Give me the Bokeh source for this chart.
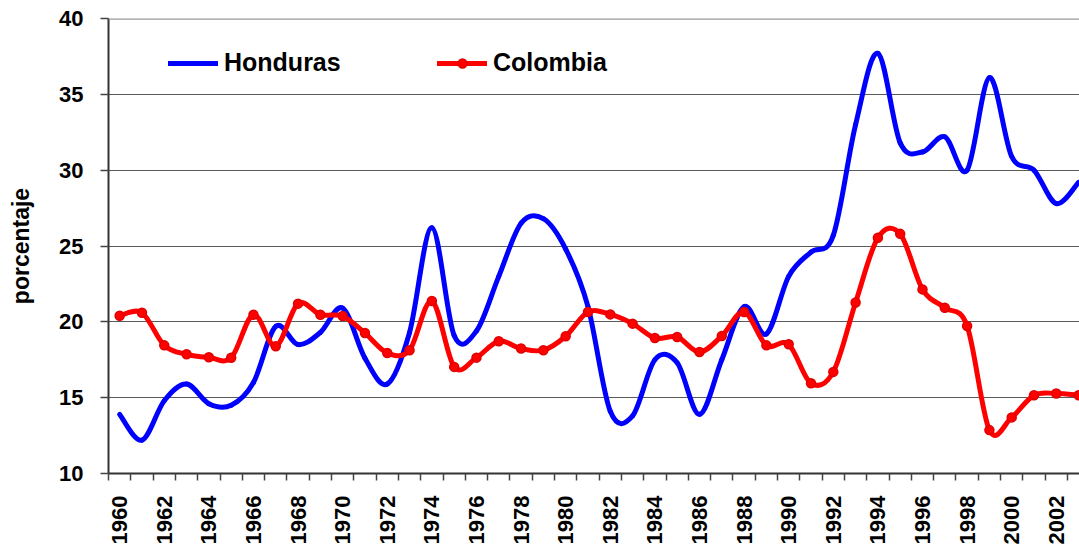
import math
from bokeh.plotting import figure
from bokeh.models import Range1d, FixedTicker, Legend, LegendItem, Span, ColumnDataSource
from bokeh.embed import file_html
from bokeh.resources import INLINE

years = list(range(1960, 2004))
honduras = [13.9, 12.2, 14.8, 15.9, 14.6, 14.5, 16.0, 19.7, 18.5, 19.3,
            20.9, 17.6, 15.9, 19.3, 26.2, 19.1, 19.4, 23.0, 26.5, 26.8,
            24.8, 21.0, 14.1, 13.8, 17.5, 17.3, 13.9, 17.5, 21.0, 19.2,
            23.0, 24.6, 25.7, 33.0, 37.7, 31.8, 31.2, 32.2, 30.0, 36.1,
            30.9, 30.0, 27.8, 29.2]
colombia = [20.4, 20.6, 18.45, 17.86, 17.66, 17.63, 20.47, 18.39, 21.2, 20.47,
            20.38, 19.26, 17.95, 18.13, 21.37, 17.03, 17.64, 18.72, 18.24, 18.13,
            19.05, 20.65, 20.49, 19.88, 18.93, 19.0, 18.01, 19.07, 20.65, 18.45,
            18.52, 15.95, 16.7, 21.28, 25.54, 25.8, 22.14, 20.93, 19.73, 12.86,
            13.7, 15.16, 15.28, 15.16]
y_ticks = [10, 15, 20, 25, 30, 35, 40]
x_label_ticks = list(range(1960, 2003, 2))

FONT = "Liberation Sans"


def smooth_segments(xs, ys):
    n = len(xs)
    d = dict(x0=[], y0=[], x1=[], y1=[], cx0=[], cy0=[], cx1=[], cy1=[])
    for i in range(n - 1):
        im1 = max(i - 1, 0)
        ip2 = min(i + 2, n - 1)
        d["x0"].append(xs[i]); d["y0"].append(ys[i])
        d["x1"].append(xs[i + 1]); d["y1"].append(ys[i + 1])
        d["cx0"].append(xs[i] + (xs[i + 1] - xs[im1]) / 6.0)
        d["cy0"].append(ys[i] + (ys[i + 1] - ys[im1]) / 6.0)
        d["cx1"].append(xs[i + 1] - (xs[ip2] - xs[i]) / 6.0)
        d["cy1"].append(ys[i + 1] - (ys[ip2] - ys[i]) / 6.0)
    return ColumnDataSource(d)


p = figure(width=1079, height=547,
           x_range=Range1d(1959.5, 2003.04), y_range=Range1d(10, 40),
           output_backend="svg", toolbar_location=None,
           min_border_left=108, min_border_right=0,
           min_border_top=18, min_border_bottom=74)
p.outline_line_color = None
p.background_fill_color = "white"
p.border_fill_color = "white"

# grid
p.xgrid.grid_line_color = None
p.ygrid.grid_line_color = "#5a5a5a"
p.ygrid.grid_line_width = 1
p.ygrid.ticker = FixedTicker(ticks=y_ticks)
p.add_layout(Span(location=40, dimension="width", line_color="#999999", line_width=2.5))

# y axis
p.yaxis.ticker = FixedTicker(ticks=y_ticks)
p.yaxis.axis_line_color = "#333333"
p.yaxis.axis_line_width = 2
p.yaxis.major_tick_line_color = "#444444"
p.yaxis.major_tick_line_width = 1.5
p.yaxis.major_tick_out = 8
p.yaxis.major_tick_in = 0
p.yaxis.minor_tick_line_color = None
p.yaxis.major_label_standoff = 17
p.yaxis.major_label_text_font = FONT
p.yaxis.major_label_text_font_style = "bold"
p.yaxis.major_label_text_font_size = "22px"
p.yaxis.major_label_text_color = "black"
p.yaxis.axis_label = "porcentaje"
p.yaxis.axis_label_text_font = FONT
p.yaxis.axis_label_text_font_style = "bold"
p.yaxis.axis_label_text_font_size = "23px"
p.yaxis.axis_label_text_color = "black"
p.yaxis.axis_label_standoff = 22

# x axis
p.xaxis.ticker = FixedTicker(ticks=x_label_ticks,
                             minor_ticks=[y - 0.5 for y in years] + [years[-1] + 0.5])
p.xaxis.axis_line_color = "#333333"
p.xaxis.axis_line_width = 2
p.xaxis.major_tick_out = 0
p.xaxis.major_tick_in = 0
p.xaxis.minor_tick_out = 7
p.xaxis.minor_tick_in = 0
p.xaxis.minor_tick_line_color = "#444444"
p.xaxis.minor_tick_line_width = 1.5
p.xaxis.major_label_orientation = math.pi / 2
p.xaxis.major_label_standoff = 15
p.xaxis.major_label_text_font = FONT
p.xaxis.major_label_text_font_style = "bold"
p.xaxis.major_label_text_font_size = "22px"
p.xaxis.major_label_text_color = "black"

# series
hsrc = smooth_segments(years, honduras)
csrc = smooth_segments(years, colombia)
hr = p.bezier(x0="x0", y0="y0", x1="x1", y1="y1", cx0="cx0", cy0="cy0", cx1="cx1", cy1="cy1",
              source=hsrc, line_color="#0000ff", line_width=5, line_cap="round")
cr = p.bezier(x0="x0", y0="y0", x1="x1", y1="y1", cx0="cx0", cy0="cy0", cx1="cx1", cy1="cy1",
              source=csrc, line_color="#ff0000", line_width=5, line_cap="round")
cm = p.scatter(x=years, y=colombia, marker="circle", size=9,
               fill_color="#ff0000", line_color="#e00000", line_width=1.5)

# legends
for items, loc in (([LegendItem(label="Honduras", renderers=[hr])], (60, 396)),
                   ([LegendItem(label="Colombia", renderers=[cr, cm])], (329, 396))):
    lg = Legend(items=items, location=loc, orientation="horizontal",
                glyph_width=50, glyph_height=22, label_standoff=6,
                label_text_font=FONT, label_text_font_style="bold",
                label_text_font_size="25px", label_text_color="black",
                padding=0, margin=0, spacing=0,
                border_line_color=None, background_fill_alpha=0)
    p.add_layout(lg)

open("out.html", "w").write(file_html(p, INLINE))
